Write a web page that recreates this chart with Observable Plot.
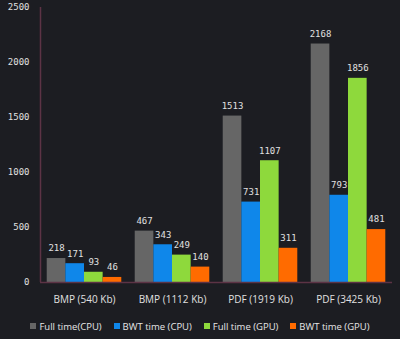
<!DOCTYPE html>
<html>
<head>
<meta charset="utf-8">
<script src="https://cdn.jsdelivr.net/npm/d3@7"></script>
<script src="https://cdn.jsdelivr.net/npm/@observablehq/plot@0.6"></script>
<style>
  html, body { margin: 0; padding: 0; background: #1c1d22; }
  #chart svg { display: block; }
  #legend { display: flex; justify-content: center; align-items: center; gap: 12px; height: 28px;
    font: 9.5px "Open Sans", sans-serif; color: #e6e6e6; }
  #legend .item { display: flex; align-items: center; }
  #legend .sw { width: 6px; height: 6px; margin-right: 3px; display: inline-block; }
</style>
</head>
<body>
<div id="chart"></div>
<div id="legend"></div>
<script>
const categories = ["BMP (540 Kb)", "BMP (1112 Kb)", "PDF (1919 Kb)", "PDF (3425 Kb)"];
const seriesNames = ["Full time(CPU)", "BWT time (CPU)", "Full time (GPU)", "BWT time (GPU)"];
const fullCPU = [218, 467, 1513, 2168];
const bwtCPU = [171, 343, 731, 793];
const fullGPU = [93, 249, 1107, 1856];
const bwtGPU = [46, 140, 311, 481];
const colors = ["#666666", "#0f87ea", "#8ed93c", "#ff6b00"];
const yTicks = [0, 500, 1000, 1500, 2000, 2500];

const seriesValues = [fullCPU, bwtCPU, fullGPU, bwtGPU];
const data = [];
categories.forEach((c, i) => {
  seriesNames.forEach((s, j) => data.push({category: c, series: s, value: seriesValues[j][i]}));
});

const axisColor = "#5c3345";
const marginLeft = 40;

const chart = Plot.plot({
  width: 400,
  height: 312,
  marginTop: 7,
  marginBottom: 30,
  marginLeft: marginLeft,
  marginRight: 8,
  style: {background: "transparent", color: "#e0e0e0"},
  fx: {domain: categories, padding: 0, round: false, axis: "bottom", label: null, tickSize: 0, tickPadding: 13},
  x: {domain: seriesNames, axis: null, round: false, paddingInner: 0, paddingOuter: 0.36},
  y: {domain: [0, 2500], ticks: yTicks, tickFormat: d3.format("d"), tickSize: 0, tickPadding: 11, label: null, grid: false},
  color: {domain: seriesNames, range: colors},
  facet: {data: data, x: "category"},
  marks: [
    Plot.barY(data, {x: "series", y: "value", fill: "series", inset: 0}),
    Plot.text(data, {x: "series", y: "value", text: d => String(d.value), dy: -10,
      fill: "#e0e0e0", fontFamily: "DejaVu Sans Mono, monospace", fontSize: 9}),
    Plot.ruleY([0], {stroke: axisColor, strokeWidth: 1.5})
  ]
});

d3.select(chart).selectAll("[aria-label='y-axis tick label'] text, [aria-label='y-axis'] text")
  .attr("font-family", "DejaVu Sans Mono, monospace").attr("font-size", 9);
d3.select(chart).selectAll("[aria-label='fx-axis tick label'] text, [aria-label='fx-axis'] text")
  .attr("font-family", "Open Sans, sans-serif").attr("font-size", 10);

const yr = chart.scale("y").range;
d3.select(chart).append("line")
  .attr("x1", marginLeft + 0.5).attr("x2", marginLeft + 0.5)
  .attr("y1", yr[0]).attr("y2", yr[1])
  .attr("stroke", axisColor).attr("stroke-width", 1.5);

document.getElementById("chart").appendChild(chart);

const legend = d3.select("#legend");
seriesNames.forEach((s, i) => {
  const it = legend.append("div").attr("class", "item");
  it.append("span").attr("class", "sw").style("background", colors[i]);
  it.append("span").text(s);
});
</script>
</body>
</html>
